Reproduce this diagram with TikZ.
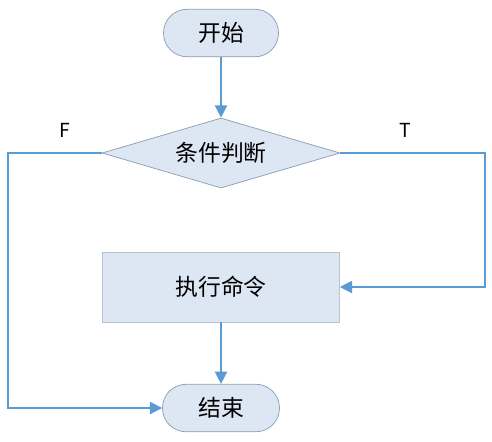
\documentclass[tikz,border=0pt]{standalone}
\usepackage{fontspec}
\setmainfont{Noto Sans CJK SC}
\usepackage{tikz}
\usetikzlibrary{shapes.geometric,arrows.meta}

\definecolor{boxfill}{HTML}{DDE6F3}
\definecolor{boxline}{HTML}{8C9CB0}
\definecolor{flowline}{HTML}{5B9BD5}

\begin{document}
\begin{tikzpicture}[x=0.02cm,y=-0.02cm,
	term/.style={draw=boxline,fill=boxfill,rounded corners=0.47cm,minimum height=0.95cm,inner sep=0pt,font=\fontsize{13}{15}\selectfont},
	cond/.style={diamond,draw=boxline,fill=boxfill,aspect=3.4,minimum width=4.76cm,minimum height=1.4cm,inner sep=0pt,font=\fontsize{13}{15}\selectfont},
	proc/.style={draw=boxline!60,fill=boxfill,minimum width=4.74cm,minimum height=1.4cm,inner sep=0pt,font=\fontsize{13}{15}\selectfont},
	flow/.style={flowline,thick,-{Triangle[length=7pt,width=7pt]}},
	tag/.style={font=\fontsize{11}{13}\selectfont}]
\useasboundingbox (0,0) rectangle (492,441);

\node[term,minimum width=2.3cm] (start) at (221,33) {开始};
\node[cond] (test) at (221,153) {条件判断};
\node[proc] (run) at (221,287) {执行命令};
\node[term,minimum width=2.34cm] (stop) at (221,408) {结束};

\coordinate (fl) at (8,153);
\coordinate (tr) at (485,153);

\node[tag] (f) at (65,130) {F};
\node[tag] (t) at (405,130) {T};

\draw[flow] (start) -- (test);
\draw[flow] (test.east) -- (tr) |- (run.east);
\draw[flow] (test.west) -- (fl) |- (stop.west);
\draw[flow] (run) -- (stop);
\end{tikzpicture}
\end{document}
